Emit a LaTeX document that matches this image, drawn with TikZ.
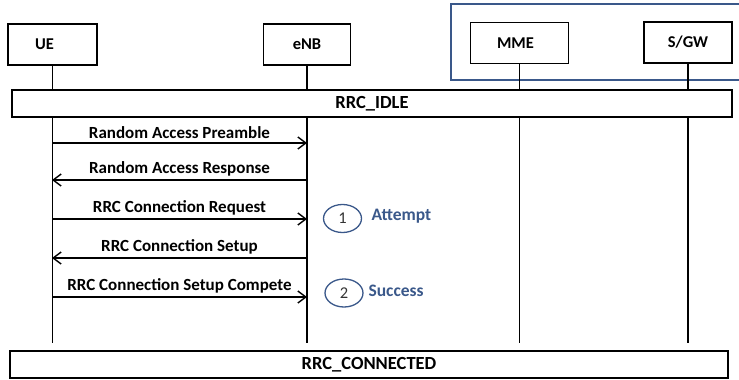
\documentclass[tikz,border=0pt]{standalone}
\usepackage{fontspec}
\setmainfont{Carlito}
\usetikzlibrary{arrows.meta,shapes.geometric}
\definecolor{navy}{RGB}{58,88,138}
\begin{document}
\begin{tikzpicture}[x=1pt,y=-1pt,
  entity/.style={draw, line width=1.5pt, minimum height=41pt, inner sep=0pt,
    font=\fontsize{16.5}{18}\selectfont\bfseries},
  statebar/.style={draw, fill=white, line width=1.5pt, minimum height=27pt, inner sep=0pt,
    font=\fontsize{18.5}{20}\selectfont\bfseries},
  life/.style={line width=1.4pt},
  msg/.style={line width=1.4pt, -{Straight Barb[length=8pt,width=12pt,line width=1.4pt]}},
  lbl/.style={font=\fontsize{17}{18}\selectfont\bfseries, above=0pt, midway},
  stepmark/.style={draw=navy, ellipse, line width=1.3pt, minimum width=38pt, minimum height=28pt, inner sep=0pt,
    font=\fontsize{16.5}{18}\selectfont, text=black!80},
  note/.style={font=\fontsize{17.5}{19}\selectfont\bfseries, text=navy, anchor=west}
]
\useasboundingbox (0,0) rectangle (739,380);
% core network frame (right side cut off)
\draw[navy, line width=1.4pt] (739,4) -- (451,4) -- (451,80) -- (739,80);
% entities
\node[entity, minimum width=89pt] (ue) at (52.5,44.5) {\hspace*{-16pt}UE};
\node[entity, minimum width=87pt] (enb) at (307,44.5) {eNB};
\node[entity, minimum width=98pt] (mme) at (519.5,43) {\hspace*{-8pt}MME};
\node[entity, minimum width=88pt] (sgw) at (688,42.5) {S/GW};
% lifeline ends
\coordinate (ueE) at (52,343);
\coordinate (enbE) at (307,343);
\coordinate (mmeE) at (519,343);
\coordinate (sgwE) at (688,343);
\draw[life] (ue.south) -- (ue.south |- ueE);
\draw[life] (enb.south) -- (enb.south |- enbE);
\draw[life] (mme.south) -- (mme.south |- mmeE);
\draw[life] (sgw.south) -- (sgw.south |- sgwE);
% state bars
\node[statebar, minimum width=720pt] (idle) at (372,103.5) {RRC\_IDLE};
\node[statebar, minimum width=718pt] (conn) at (369,364.5) {RRC\_CONNECTED};
% message anchor points
\coordinate (u1) at (52,143);  \coordinate (e1) at (307,143);
\coordinate (u2) at (52,180);  \coordinate (e2) at (307,180);
\coordinate (u3) at (52,219);  \coordinate (e3) at (307,219);
\coordinate (u4) at (52,258);  \coordinate (e4) at (307,258);
\coordinate (u5) at (52,297);  \coordinate (e5) at (307,297);
\draw[msg] (u1) -- node[lbl] {Random Access Preamble} (e1);
\draw[msg] (e2) -- node[lbl] {Random Access Response} (u2);
\draw[msg] (u3) -- node[lbl] {RRC Connection Request} (e3);
\draw[msg] (e4) -- node[lbl] {RRC Connection Setup} (u4);
\draw[msg] (u5) -- node[lbl] {RRC Connection Setup Compete} (e5);
% step markers
\node[stepmark] (s1) at (342.5,218.5) {1};
\node[note] (t1) at (368,216.5) {Attempt};
\node[stepmark] (s2) at (344,293) {2};
\node[note] (t2) at (365,291) {Success};
\end{tikzpicture}
\end{document}
